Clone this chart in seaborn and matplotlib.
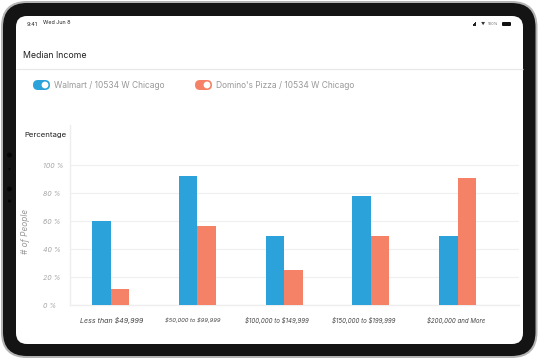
import pandas as pd
import seaborn as sns
import matplotlib.pyplot as plt
from matplotlib.patches import FancyBboxPatch, Circle, Rectangle
from matplotlib.transforms import ScaledTranslation

# values
categories = ['Less than $49,999', '$50,000 to $99,999', '$100,000 to $149,999',
              '$150,000 to $199,999', '$200,000 and More']
walmart = [60, 92, 49, 78, 49]
dominos = [11.5, 56.5, 25, 49, 90.5]
series_names = ['Walmart / 10534 W Chicago', "Domino's Pizza / 10534 W Chicago"]
y_ticks = [0, 20, 40, 60, 80, 100]
y_labels = ['0 %', '20 %', '40 %', '60 %', '80 %', '100 %']

BLUE = '#2ba2d9'
ORANGE = '#f58266'
W, H = 538, 359

df = pd.DataFrame({
    'income': categories * 2,
    'value': walmart + dominos,
    'store': [series_names[0]] * 5 + [series_names[1]] * 5,
})

sns.set_theme(style='white')
plt.rcParams['font.family'] = ['Inter', 'DejaVu Sans']
plt.rcParams['text.parse_math'] = False

fig = plt.figure(figsize=(W / 100, H / 100), dpi=100)

# tablet frame, drawn in pixel coordinates
bg = fig.add_axes([0, 0, 1, 1])
bg.set_xlim(0, W)
bg.set_ylim(H, 0)
bg.axis('off')


def rbox(x0, y0, x1, y1, r, color, ax=bg, z=1):
    ax.add_patch(FancyBboxPatch((x0 + r, y0 + r), x1 - x0 - 2 * r, y1 - y0 - 2 * r,
                                boxstyle=f'round,pad={r},rounding_size={r}',
                                fc=color, ec='none', zorder=z))


rbox(1, 1, 537.5, 358, 26, '#b4b4b4', z=1)
rbox(3, 3, 535.5, 356, 24, '#141414', z=2)
rbox(16, 16, 523, 344, 11, 'white', z=3)
for cy, r in [(155, 2.5), (169, 1), (189, 2.5), (201, 1.5)]:
    bg.add_patch(Circle((9.5, cy), r, fc='#050505', ec='none', zorder=3))

# status bar
bg.text(27, 24, '9:41', fontsize=4, color='#222222', va='center', zorder=4)
bg.text(43, 23, 'Wed Jun 8', fontsize=3.9, color='#222222', va='center', zorder=4)
for i, h in enumerate([1.5, 2.5, 3.5, 4.5]):
    bg.add_patch(Rectangle((471.5 + i * 1.2, 26 - h), 0.9, h, fc='#222222', ec='none', zorder=4))
bg.text(481, 23.7, '\u25bc', fontsize=3, color='#333333', va='center', zorder=4)
bg.text(488, 23.7, '100%', fontsize=2.8, color='#666666', va='center', zorder=4)
rbox(502, 22, 511, 26, 1, '#111111', z=4)

# header
bg.text(23, 55, 'Median Income', fontsize=6.3, color='#222222', va='center', zorder=4)
bg.plot([16, 522.5], [68.5, 68.5], color='#e8e8e8', lw=0.9, solid_capstyle='butt', zorder=4)

# toggles used as legend
for x0, color, name, tx in [(33, BLUE, series_names[0], 54), (195, ORANGE, series_names[1], 216)]:
    rbox(x0, 80, x0 + 17, 90, 5, color, z=4)
    bg.add_patch(Circle((x0 + 12, 85), 3.4, fc='white', ec='none', zorder=5))
    bg.text(tx, 85.2, name, fontsize=6.05, color='#999999', va='center', zorder=4)

bg.text(24.5, 134.5, 'Percentage', fontsize=5.6, color='#222222', va='center', zorder=4)
bg.text(25.5, 231, '# of People', fontsize=6, color='#999999', style='italic',
        rotation=90, ha='center', va='center', zorder=4)

# chart
ax = fig.add_axes([70 / W, 1 - 305 / H, (519 - 70) / W, (305 - 125) / H])
ax.patch.set_alpha(0)
sns.barplot(data=df, x='income', y='value', hue='store', order=categories,
            hue_order=series_names, palette=[BLUE, ORANGE], width=0.426, gap=0,
            saturation=1, linewidth=0, legend=False, ax=ax, zorder=3)
ax.set_xlim(-0.467, 4.706)
ax.set_ylim(0, 128.6)
ax.set_xlabel('')
ax.set_ylabel('')
ax.set_yticks(y_ticks, y_labels)
ax.tick_params(axis='y', length=0, pad=19.4, labelsize=5, labelcolor='#a5a5a5')
for lab in ax.get_yticklabels():
    lab.set_ha('left')
    lab.set_style('italic')
ax.tick_params(axis='x', length=0, pad=9, labelsize=4.4, labelcolor='#444444')
# the labels in the picture sit a little off the group centres
label_shift = [1.5, -4.5, -7, -7, -2]
label_size = [5.1, 4.2, 4.4, 4.4, 4.4]
for i, lab in enumerate(ax.get_xticklabels()):
    lab.set_style('italic')
    lab.set_transform(lab.get_transform() + ScaledTranslation(label_shift[i] / 100, 0, fig.dpi_scale_trans))
    lab.set_fontsize(label_size[i])
ax.grid(axis='y', color='#f0f0f0', lw=0.9, zorder=0)
ax.set_axisbelow(True)
sns.despine(ax=ax, top=True, right=True)
for side in ['left', 'bottom']:
    ax.spines[side].set_color('#eeeeee')
    ax.spines[side].set_linewidth(1)

fig.savefig('out.png', dpi=100)
